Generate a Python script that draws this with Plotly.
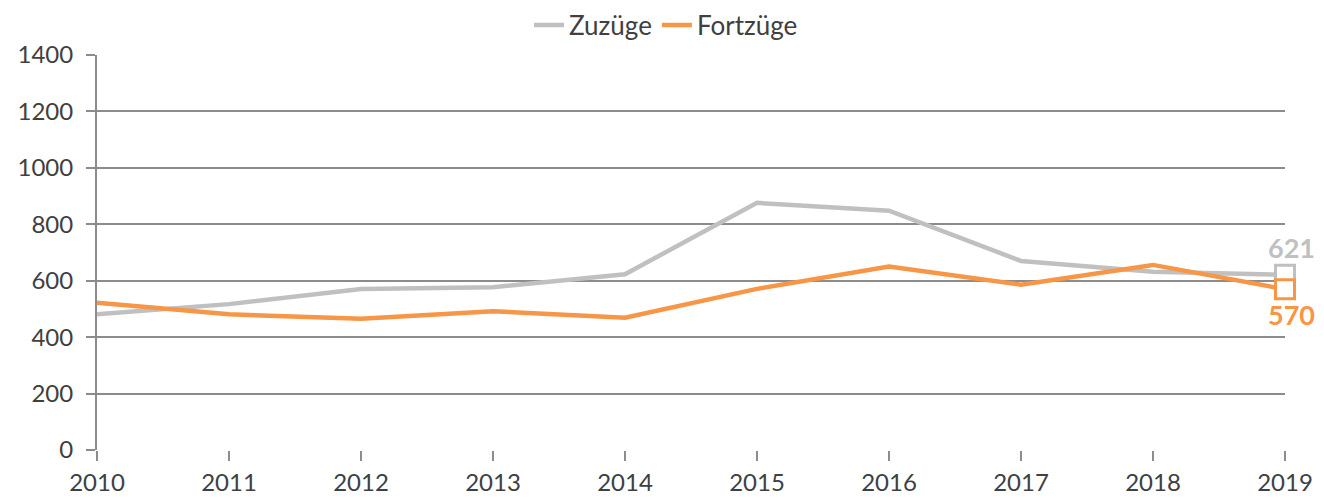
import plotly.graph_objects as go

years = [2010, 2011, 2012, 2013, 2014, 2015, 2016, 2017, 2018, 2019]
zuzuege = [481, 517, 571, 577, 623, 876, 848, 670, 632, 621]
fortzuege = [522, 481, 465, 492, 469, 571, 650, 586, 656, 570]
y_ticks = [0, 200, 400, 600, 800, 1000, 1200, 1400]

GRAY = "#C0C0C0"
ORANGE = "#F79646"
FONT = "Lato"

fig = go.Figure()
fig.add_trace(go.Scatter(x=years, y=zuzuege, name="Zuzüge", mode="lines",
                         line=dict(color=GRAY, width=4.5), cliponaxis=False))
fig.add_trace(go.Scatter(x=years, y=fortzuege, name="Fortzüge", mode="lines",
                         line=dict(color=ORANGE, width=4.5), cliponaxis=False))
# end markers
fig.add_trace(go.Scatter(x=[years[-1]], y=[zuzuege[-1]], mode="markers",
                         marker=dict(symbol="square", size=19, color="white",
                                     line=dict(color=GRAY, width=3)),
                         showlegend=False, cliponaxis=False))
fig.add_trace(go.Scatter(x=[years[-1]], y=[fortzuege[-1]], mode="markers",
                         marker=dict(symbol="square", size=19, color="white",
                                     line=dict(color=ORANGE, width=3)),
                         showlegend=False, cliponaxis=False))

fig.add_annotation(x=years[-1], y=zuzuege[-1], text=str(zuzuege[-1]), showarrow=False,
                   xshift=6, yshift=27,
                   font=dict(family=FONT, size=27, color=GRAY, weight="bold"))
fig.add_annotation(x=years[-1], y=fortzuege[-1], text=str(fortzuege[-1]), showarrow=False,
                   xshift=6, yshift=-25,
                   font=dict(family=FONT, size=27, color=ORANGE, weight="bold"))

fig.update_layout(
    width=1324, height=490,
    margin=dict(l=89, r=47, t=47, b=48, autoexpand=False),
    paper_bgcolor="white", plot_bgcolor="white",
    font=dict(family=FONT, size=24, color="#404040"),
    legend=dict(orientation="h", x=0.479, xanchor="center", yref="container",
                y=0.965, yanchor="middle",
                font=dict(size=26, color="#404040"), tracegroupgap=0),
    xaxis=dict(range=[2010, 2019], tickvals=years, ticktext=[str(y) for y in years],
               showgrid=False, zeroline=False, showline=False, automargin=False,
               ticks="outside", ticklen=10, tickcolor="#8C8C8C", tickwidth=2,
               ticklabelstandoff=1),
    yaxis=dict(range=[0, 1400], tickvals=y_ticks, showgrid=True, gridcolor="#8C8C8C",
               gridwidth=2, zeroline=False, showline=True, linecolor="#8C8C8C", linewidth=2,
               automargin=False,
               ticks="outside", ticklen=9, tickcolor="#8C8C8C", tickwidth=2,
               ticklabelstandoff=8),
)
fig.write_html("out.html")
